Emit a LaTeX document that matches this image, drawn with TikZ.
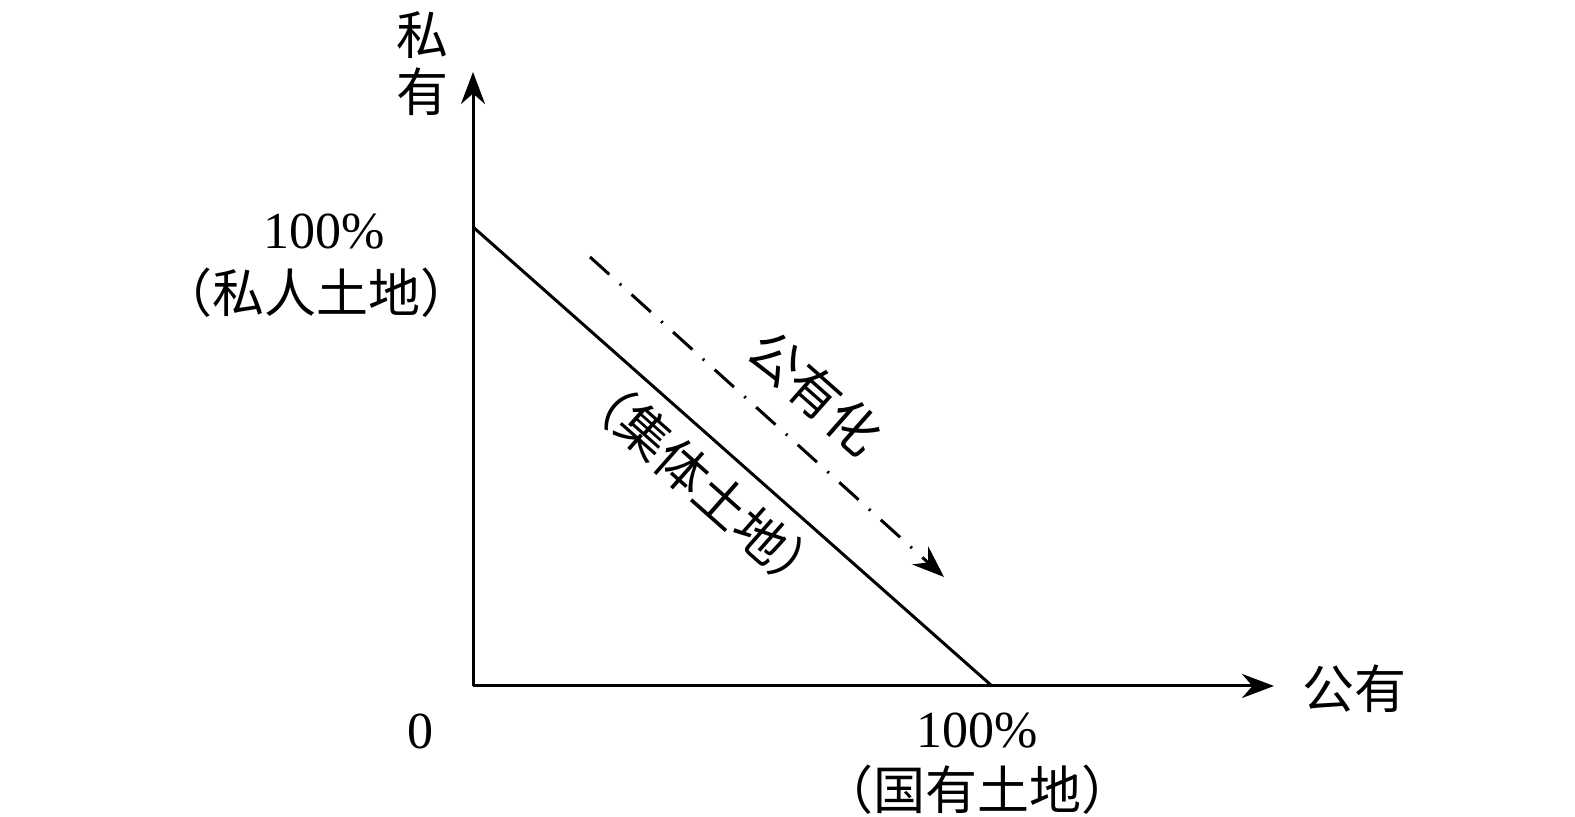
\documentclass[tikz,border=0pt]{standalone}
\usepackage{fontspec}
\setmainfont{Liberation Serif}
\newfontfamily\cjk{Noto Sans CJK SC}
\usetikzlibrary{arrows.meta}

\begin{document}
\begin{tikzpicture}[x=0.5pt, y=0.5pt, >={Stealth[length=16pt, width=12pt]}, font=\fontsize{26}{30}\selectfont]
  \tikzstyle{axisline}=[line width=1.5pt, ->]
  \tikzstyle{lbl}=[inner sep=0pt, align=center]
  \tikzstyle{dashdot}=[line width=1.5pt, dash pattern=on 13pt off 7pt on 1pt off 7pt, ->]

  \useasboundingbox (0,0) rectangle (1575,817);

  \coordinate (o) at (473,131);
  \coordinate (ytip) at (473,745);
  \coordinate (xtip) at (1274,131);
  \coordinate (ptop) at (473,590);
  \coordinate (pbot) at (992,131);
  \coordinate (d1) at (590,560);
  \coordinate (d2) at (944,240);

  \draw[axisline] (o) -- (ytip);
  \draw[axisline] (o) -- (xtip);
  \draw[line width=1.5pt] (ptop) -- (pbot);
  \draw[dashdot] (d1) -- (d2);

  \node[lbl] (si) at (422,782) {\cjk 私};
  \node[lbl] (you) at (422,725) {\cjk 有};
  \node[lbl] (xname) at (1354,128) {\cjk 公有};
  \node[lbl] (zero) at (420,86) {0};
  \node[lbl] (p1) at (324,585) {100\%};
  \node[lbl] (p1b) at (316,524) {\cjk （私人土地）};
  \node[lbl] (p2) at (977,86) {100\%};
  \node[lbl] (p2b) at (977,27) {\cjk （国有土地）};
  \node[lbl, rotate=-41.5] (gyh) at (815,425) {\cjk 公有化};
  \node[lbl, rotate=-41.5] (jt) at (703,333) {\cjk （集体土地）};
\end{tikzpicture}
\end{document}
